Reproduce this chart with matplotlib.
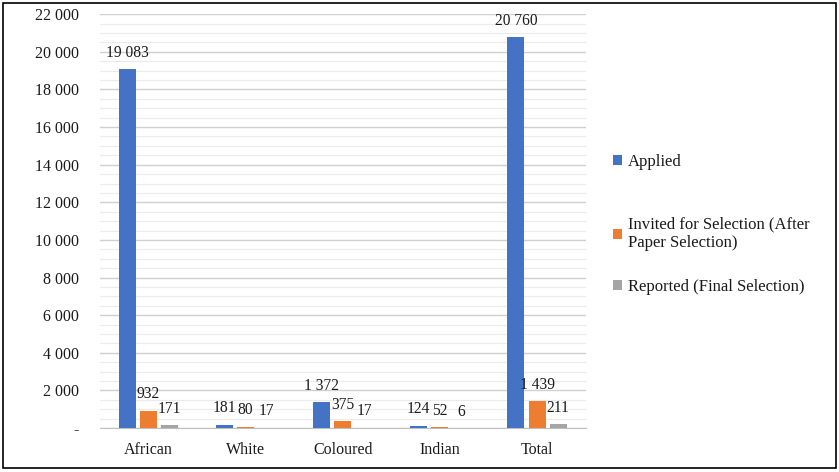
import numpy as np
import matplotlib.pyplot as plt
from matplotlib.patches import Rectangle
from matplotlib.ticker import MultipleLocator, FuncFormatter

categories = ['African', 'White', 'Coloured', 'Indian', 'Total']
applied = [19083, 181, 1372, 124, 20760]
invited = [932, 80, 375, 52, 1439]
reported = [171, 17, 17, 6, 211]
series_names = ['Applied', 'Invited for Selection (After\nPaper Selection)',
                'Reported (Final Selection)']
colors = ['#4472C4', '#ED7D31', '#A5A5A5']

plt.rcParams['font.family'] = ['Liberation Serif', 'DejaVu Serif']

def fmt(v):
    return '{:,}'.format(int(v)).replace(',', ' ')

fig = plt.figure(figsize=(8.39, 4.72), dpi=100)
ax = fig.add_axes([0.119, 0.093, 0.579, 0.877])

x = np.arange(len(categories))
w = 0.175
step = 0.218
handles = []
for i, (vals, col) in enumerate(zip([applied, invited, reported], colors)):
    pos = x + (i - 1) * step
    b = ax.bar(pos, vals, w, color=col, zorder=3)
    handles.append(b)
    for px, v in zip(pos, vals):
        ax.annotate(fmt(v), (px, v), xytext=(0, 6), textcoords='offset points',
                    ha='center', va='bottom', fontsize=11.2, color='#1a1a1a')

ax.set_ylim(0, 22000)
ax.set_xlim(-0.5, len(categories) - 0.5)
ax.yaxis.set_major_locator(MultipleLocator(2000))
ax.yaxis.set_minor_locator(MultipleLocator(500))
ax.yaxis.set_major_formatter(FuncFormatter(lambda v, p: '-' if v == 0 else fmt(v)))
ax.grid(which='major', axis='y', color='#D0D0D0', lw=1.0, zorder=0)
ax.grid(which='minor', axis='y', color='#EBEBEB', lw=0.8, zorder=0)
ax.set_xticks(x)
ax.set_xticklabels(categories)
ax.tick_params(axis='both', which='both', length=0, labelsize=11.5, labelcolor='#1a1a1a')
ax.tick_params(axis='y', pad=15)
ax.tick_params(axis='x', pad=10)
for s in ['top', 'right', 'left']:
    ax.spines[s].set_visible(False)
ax.spines['bottom'].set_color('#BFBFBF')

# one legend entry per slot, placed down the right-hand side
legend_y = [0.657, 0.505, 0.392]
for h, name, ly in zip(handles, series_names, legend_y):
    fig.legend([h], [name], loc='center left', bbox_to_anchor=(0.731, ly),
               frameon=False, fontsize=12, handlelength=0.55, handleheight=0.55,
               handletextpad=0.35, borderpad=0, borderaxespad=0,
               labelcolor='#1a1a1a')

fig.patches.append(Rectangle((0.004, 0.008), 0.993, 0.985, transform=fig.transFigure,
                             fill=False, edgecolor='black', lw=1.2))

fig.savefig('out.png', dpi=100)
